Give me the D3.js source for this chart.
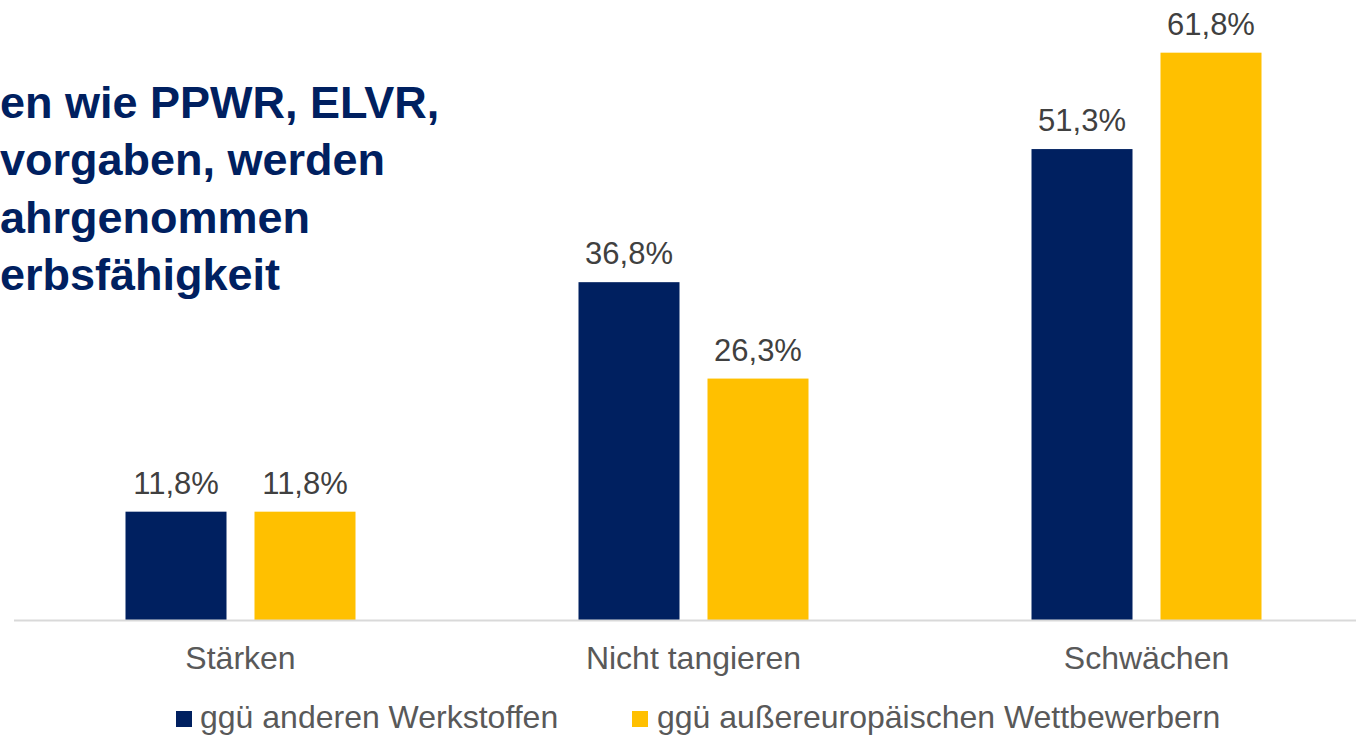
<!DOCTYPE html>
<html>
<head>
<meta charset="utf-8">
<script src="https://cdn.jsdelivr.net/npm/d3@7"></script>
<style>
  body { margin: 0; background: #fff; overflow: hidden; }
  svg { display: block; font-family: Arial, "Liberation Sans", sans-serif; }
</style>
</head>
<body>
<script>
const categories = ['Stärken', 'Nicht tangieren', 'Schwächen']
const seriesNames = ['ggü anderen Werkstoffen', 'ggü außereuropäischen Wettbewerbern']
const anderenWerkstoffen = [11.8, 36.8, 51.3]
const aussereuropaeisch = [11.8, 26.3, 61.8]
const titleLines = ['en wie PPWR, ELVR,', 'vorgaben, werden', 'ahrgenommen', 'erbsfähigkeit']

const colors = ['#002060', '#FFC000']
const width = 1356
const height = 735
const baseY = 620

const svg = d3.select('body').append('svg')
  .attr('width', width)
  .attr('height', height)

// title, cut off at the left edge like in the slide
svg.append('g').selectAll('text')
  .data(titleLines)
  .enter().append('text')
  .attr('x', 0)
  .attr('y', (d, i) => 118 + i * 57.3)
  .attr('font-size', 45)
  .attr('font-weight', 'bold')
  .attr('fill', '#002060')
  .text(d => d)

const x = d3.scaleBand().domain(categories).range([14, 14 + 453 * 3])
const xInner = d3.scaleBand().domain([0, 1]).range([-115, 115]).paddingInner(0.217)
const y = d3.scaleLinear().domain([0, 70]).range([baseY, baseY - 70 * 9.18])

const data = categories.map((c, i) => ({ cat: c, values: [anderenWerkstoffen[i], aussereuropaeisch[i]] }))

const groups = svg.append('g').selectAll('g')
  .data(data)
  .enter().append('g')
  .attr('transform', d => 'translate(' + (x(d.cat) + x.bandwidth() / 2) + ',0)')

groups.selectAll('rect')
  .data(d => d.values.map((v, j) => ({ v, j })))
  .enter().append('rect')
  .attr('x', d => xInner(d.j))
  .attr('y', d => y(d.v))
  .attr('width', xInner.bandwidth())
  .attr('height', d => baseY - y(d.v))
  .attr('fill', d => colors[d.j])

groups.selectAll('text.val')
  .data(d => d.values.map((v, j) => ({ v, j })))
  .enter().append('text')
  .attr('class', 'val')
  .attr('x', d => xInner(d.j) + xInner.bandwidth() / 2)
  .attr('y', d => y(d.v) - 18)
  .attr('text-anchor', 'middle')
  .attr('font-size', 31)
  .attr('fill', '#404040')
  .text(d => d3.format('.1f')(d.v).replace('.', ',') + '%')

// category axis
const axis = svg.append('g')
  .attr('transform', 'translate(0,' + baseY + ')')
  .call(d3.axisBottom(x).tickSize(0).tickPadding(46))
axis.select('.domain').attr('stroke', '#d9d9d9').attr('stroke-width', 2)
  .attr('d', 'M14,0.5H' + width)
axis.selectAll('text')
  .attr('font-size', 32)
  .attr('font-family', 'Arial, "Liberation Sans", sans-serif')
  .attr('fill', '#595959')
  .attr('dy', '0.1em')

// legend
const legendX = [176, 632]
const legend = svg.append('g').selectAll('g')
  .data(seriesNames)
  .enter().append('g')
  .attr('transform', (d, i) => 'translate(' + legendX[i] + ',711)')
legend.append('rect')
  .attr('width', 16)
  .attr('height', 16)
  .attr('fill', (d, i) => colors[i])
legend.append('text')
  .attr('x', (d, i) => i === 0 ? 24 : 25)
  .attr('y', 17)
  .attr('font-size', 32)
  .attr('fill', '#595959')
  .text(d => d)
</script>
</body>
</html>
